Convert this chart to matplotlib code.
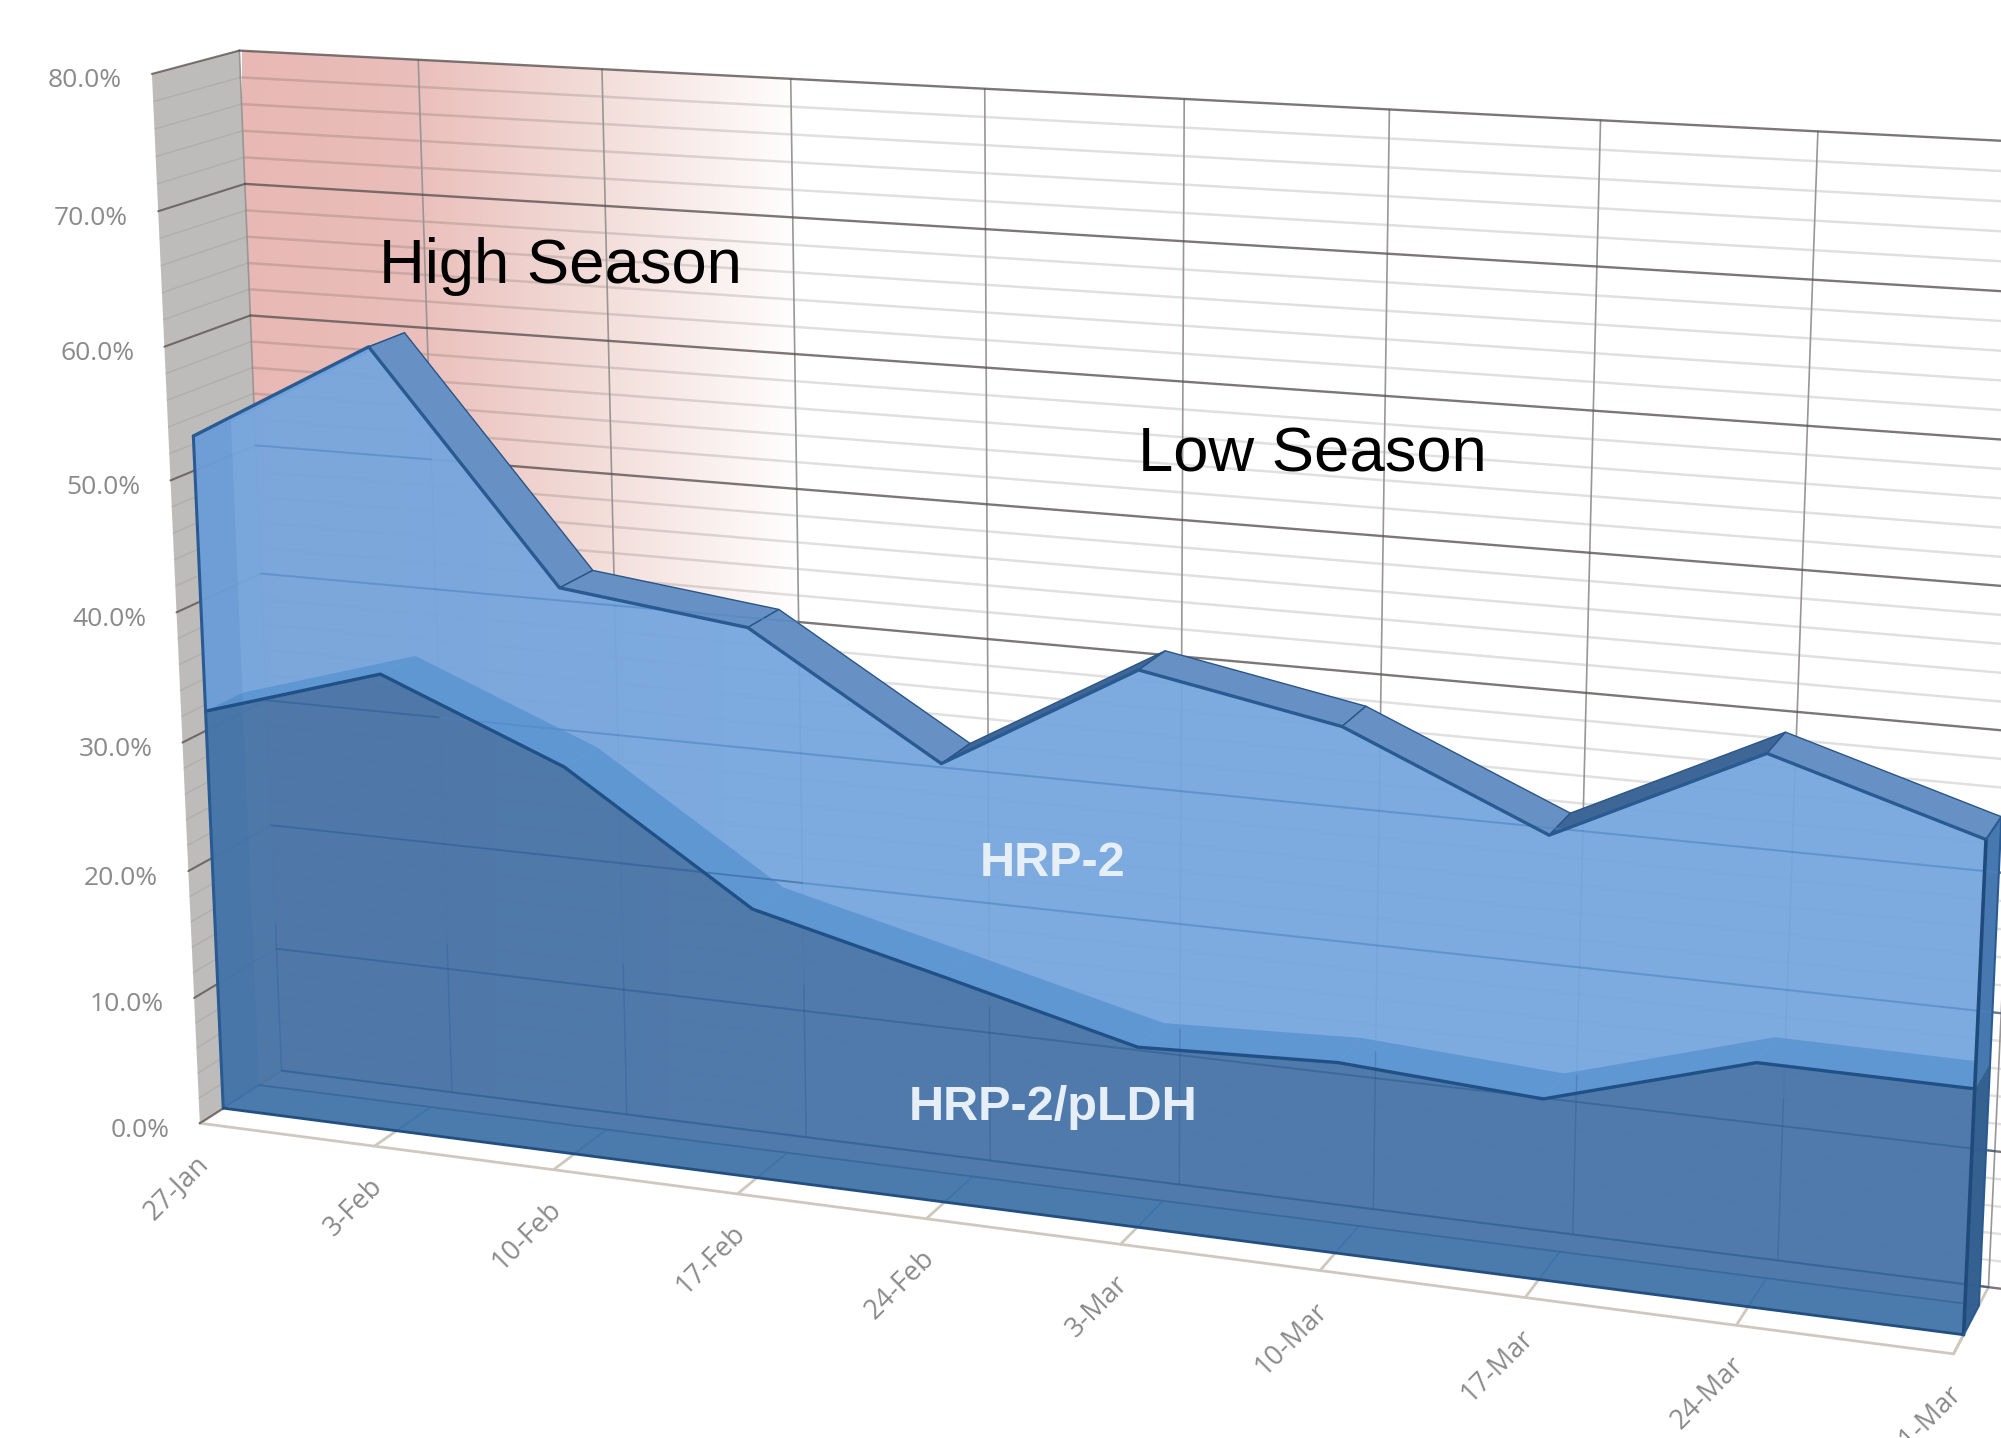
import numpy as np
import matplotlib
matplotlib.use("Agg")
import matplotlib.pyplot as plt
from matplotlib.patches import Polygon

# chart data
categories = ["27-Jan", "3-Feb", "10-Feb", "17-Feb", "24-Feb", "3-Mar", "10-Mar", "17-Mar", "24-Mar", "31-Mar"]
hrp2_pldh = [31.5, 35.7, 30, 20.7, 17.2, 13.6, 14.2, 13.3, 17.7, 17.6]
hrp2 = [21.1, 24.6, 13.5, 21.1, 15.9, 27.7, 24.4, 19, 21.8, 17.4]
y_ticks = [0, 10, 20, 30, 40, 50, 60, 70, 80]
minor_ticks = [v for v in range(0, 80, 2) if v % 10 != 0]

# camera calibration: (category, value, depth) seen at (pixel x, pixel y)
calib_world = [(0, 80, 1), (4, 80, 1), (8, 80, 1), (7, 80, 1), (0, 60, 1), (0, 0, 1), (7, 0, 1), (8, 0, 1),
               (0, 80, 0), (0, 40, 0), (0, 0, 0), (4, 0, 0), (9, 0, 0)]
calib_pixel = [(242, 51), (985, 91), (1817, 129), (1601, 120), (251, 316), (278, 1068), (1572, 1235), (1779, 1262),
               (149, 73), (176, 613), (202, 1125), (929, 1217), (1952, 1354)]

AREA_FRONT = 0.28
AREA_BACK = 0.72


def fit_camera(world, pixel):
    rows, rhs = [], []
    for (a, b, c), (u, v) in zip(world, pixel):
        rows.append([a, b, c, 1, 0, 0, 0, 0, -u * a, -u * b, -u * c])
        rhs.append(u)
        rows.append([0, 0, 0, 0, a, b, c, 1, -v * a, -v * b, -v * c])
        rhs.append(v)
    sol = np.linalg.lstsq(np.array(rows, float), np.array(rhs, float), rcond=None)[0]
    return np.append(sol, 1).reshape(3, 4)


cam = fit_camera(calib_world, calib_pixel)


def project(i, v, d):
    p = cam @ np.array([i, v, d, 1.0])
    return p[0] / p[2], p[1] / p[2]


def quad(ax, pts, color, alpha=1.0, z=1, ec="none", lw=0):
    ax.add_patch(Polygon([project(*p) for p in pts], closed=True, fc=color, alpha=alpha, ec=ec, lw=lw, zorder=z))


def line3d(ax, pts, color, lw, z=2, alpha=1.0):
    xy = np.array([project(*p) for p in pts])
    ax.plot(xy[:, 0], xy[:, 1], color=color, lw=lw, zorder=z, alpha=alpha, solid_capstyle="round")


plt.rcParams["font.family"] = ["Liberation Sans", "DejaVu Sans"]
fig = plt.figure(figsize=(20.01, 14.38), dpi=100)
ax = fig.add_axes([0, 0, 1, 1])
ax.set_xlim(0, 2001)
ax.set_ylim(1438, 0)
ax.axis("off")

n = len(categories)
last = n - 1
dark = np.array(hrp2_pldh, float)
total = dark + np.array(hrp2, float)

# walls and floor
quad(ax, [(0, 0, 1), (last + 1, 0, 1), (last + 1, 80, 1), (0, 80, 1)], "#ffffff", z=1)
quad(ax, [(0, 0, 0), (0, 0, 1), (0, 80, 1), (0, 80, 0)], "#bdbcbb", z=1)
quad(ax, [(0, 0, 0), (last, 0, 0), (last, 0, 1), (0, 0, 1)], "#ffffff", z=1)

# pink high season band fading out across the back wall
grad_x = np.linspace(0, 1, 256)
grad_rgb = np.stack([np.interp(grad_x, [0, 0.3, 0.65, 1], [232, 234, 243, 255]),
                     np.interp(grad_x, [0, 0.3, 0.65, 1], [184, 190, 222, 255]),
                     np.interp(grad_x, [0, 0.3, 0.65, 1], [180, 186, 218, 255])], axis=-1) / 255.0
img = ax.imshow(grad_rgb[np.newaxis, :, :], extent=(242, 800, 1250, 40), aspect="auto", zorder=1.2)
clip = Polygon([project(0, 0, 1), project(last + 1, 0, 1), project(last + 1, 80, 1), project(0, 80, 1)],
               closed=True, transform=ax.transData)
img.set_clip_path(clip)
ax.set_xlim(0, 2001)
ax.set_ylim(1438, 0)

# gridlines
for v in minor_ticks:
    line3d(ax, [(0, v, 1), (last + 1, v, 1)], "#000000", 1.8, z=1.4, alpha=0.12)
    line3d(ax, [(0, v, 0), (0, v, 1)], "#000000", 1.0, z=1.4, alpha=0.07)
for v in y_ticks:
    line3d(ax, [(0, v, 1), (last + 1, v, 1)], "#5c5454", 1.7, z=1.6, alpha=0.8)
    line3d(ax, [(0, v, 0), (0, v, 1)], "#5c5454", 1.5, z=1.6, alpha=0.8)
for i in range(n):
    line3d(ax, [(i, 0, 1), (i, 80, 1)], "#9a9696", 1.2, z=1.5)
    line3d(ax, [(i, 0, 0), (i, 0, AREA_FRONT)], "#cfc8bf", 2.0, z=1.5)
line3d(ax, [(0, 0, 0), (last, 0, 0), (last, 0, 1)], "#cfc8bf", 2.0, z=1.5)
line3d(ax, [(0, 0, 0), (0, 0, 1)], "#cfc8bf", 2.0, z=1.5)

# base of the area
quad(ax, [(0, 0, AREA_FRONT), (last, 0, AREA_FRONT), (last, 0, AREA_BACK), (0, 0, AREA_BACK)], "#4e82ba", alpha=0.9, z=3)

# top surface of the total
for i in range(last):
    rising = total[i + 1] > total[i]
    quad(ax, [(i, total[i], AREA_FRONT), (i + 1, total[i + 1], AREA_FRONT),
              (i + 1, total[i + 1], AREA_BACK), (i, total[i], AREA_BACK)],
         "#3e6797" if rising else "#6791c4", z=3.2, ec="#2a5587", lw=1.0)

# HRP-2 front face
upper = [(i, total[i], AREA_FRONT) for i in range(n)] + [(i, dark[i], AREA_FRONT) for i in range(last, -1, -1)]
quad(ax, upper, "#76a6de", alpha=0.95, z=3.5)

# top surface of the dark series seen through the light one
for i in range(last):
    quad(ax, [(i, dark[i], AREA_FRONT), (i + 1, dark[i + 1], AREA_FRONT),
              (i + 1, dark[i + 1], AREA_BACK), (i, dark[i], AREA_BACK)], "#5f97d2", z=3.7)

# HRP-2/pLDH front face
lower = [(i, dark[i], AREA_FRONT) for i in range(n)] + [(last, 0, AREA_FRONT), (0, 0, AREA_FRONT)]
quad(ax, lower, "#4a76a8", alpha=0.97, z=3.8)
quad(ax, [(0, 0, AREA_FRONT), (last, 0, AREA_FRONT), (last, 0, AREA_BACK), (0, 0, AREA_BACK)], "#4f86bf", alpha=0.25, z=3.85)

# left end seen through, right end on top
quad(ax, [(0, 0, AREA_FRONT), (0, 0, AREA_BACK), (0, total[0], AREA_BACK), (0, total[0], AREA_FRONT)], "#2f6cae", alpha=0.14, z=3.9)
quad(ax, [(last, dark[last], AREA_FRONT), (last, dark[last], AREA_BACK),
          (last, total[last], AREA_BACK), (last, total[last], AREA_FRONT)], "#4779b0", z=3.9)
quad(ax, [(last, 0, AREA_FRONT), (last, 0, AREA_BACK),
          (last, dark[last], AREA_BACK), (last, dark[last], AREA_FRONT)], "#34618f", z=3.9)

# grid seen through the area, it stays faintly visible
for v in y_ticks[1:6]:
    for i in range(last):
        top = min(total[i], total[i + 1])
        if v < top:
            color = "#2f5f94" if v < min(dark[i], dark[i + 1]) else "#4f86c4"
            line3d(ax, [(i, v, 1), (i + 1, v, 1)], color, 1.3, z=3.95, alpha=0.55)
line3d(ax, [(0, 0, 1), (last, 0, 1)], "#2f5f94", 1.4, z=3.95, alpha=0.7)
line3d(ax, [(0, 0, AREA_BACK), (last, 0, AREA_BACK)], "#2f5f94", 1.3, z=3.95, alpha=0.6)
for i in range(last):
    vtop = min(dark[i] - 1, 12)
    line3d(ax, [(i, 0, 1), (i, vtop, 1)], "#2f5f94", 1.0, z=3.95, alpha=0.35)
    line3d(ax, [(i, 0, AREA_FRONT), (i, 0, AREA_BACK)], "#2f6ca8", 1.2, z=3.95, alpha=0.5)

# outlines
line3d(ax, [(i, total[i], AREA_FRONT) for i in range(n)], "#2a5a92", 2.4, z=4)
line3d(ax, [(i, dark[i], AREA_FRONT) for i in range(n)], "#1f5187", 2.4, z=4)
line3d(ax, [(0, 0, AREA_FRONT), (0, total[0], AREA_FRONT)], "#2a5a92", 2.2, z=4)
line3d(ax, [(0, 0, AREA_FRONT), (last, 0, AREA_FRONT)], "#234f80", 2.0, z=4)
line3d(ax, [(last, 0, AREA_FRONT), (last, total[last], AREA_FRONT)], "#1f4b7c", 2.6, z=4)
line3d(ax, [(last, 0, AREA_FRONT), (last, 0, AREA_BACK), (last, total[last], AREA_BACK), (last, total[last], AREA_FRONT)], "#2a5a92", 1.5, z=4)

# axis labels
for v in y_ticks:
    x, y = project(0, v, 0)
    ax.text(x - 30, y + 7, "%.1f%%" % v, ha="right", va="center", fontsize=19, color="#8a8a8a",
            family=["Open Sans", "DejaVu Sans"])
for i, name in enumerate(categories):
    x, y = project(i, 0, 0)
    ax.text(x + 4, y + 36, name, ha="right", va="center", rotation=45, rotation_mode="anchor",
            fontsize=19.5, color="#8a8a8a", family=["Open Sans", "DejaVu Sans"])

# annotations
ax.text(560, 266, "High Season", ha="center", va="center", fontsize=45.6, color="#000000", zorder=6)
ax.text(1312, 455, "Low Season", ha="center", va="center", fontsize=45.6, color="#000000", zorder=6)
ax.text(1053, 863, "HRP-2", ha="center", va="center", fontsize=35, fontweight="bold", color="#e6eef8", zorder=6)
ax.text(1053, 1108, "HRP-2/pLDH", ha="center", va="center", fontsize=35, fontweight="bold", color="#e6eef8", zorder=6)

fig.savefig("out.png", dpi=100, facecolor="white")
